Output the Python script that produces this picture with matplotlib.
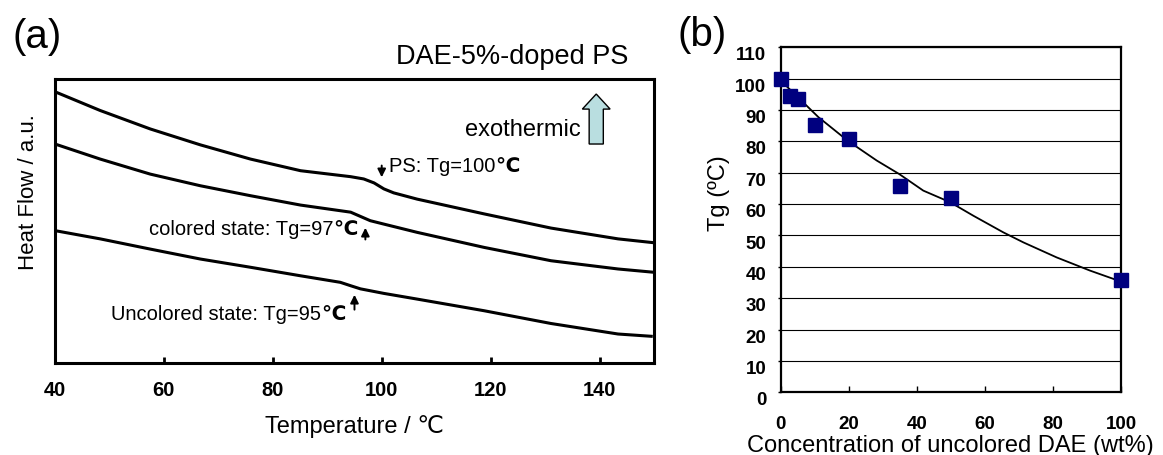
import matplotlib
matplotlib.use('Agg')
import matplotlib.pyplot as plt
import matplotlib.patches as patches
import matplotlib.transforms as mtransforms

plt.rcParams['font.family'] = ['Liberation Sans', 'DejaVu Sans']

# (a) DSC curves (arbitrary heat flow units)
ps_t = [40, 48.3, 57.5, 66.7, 75.9, 85.1, 94.3, 96.7, 98.6, 100.4, 102.2, 106.5, 118.8, 131.1, 143.4, 150.2]
ps_hf = [9.55, 8.89, 8.24, 7.68, 7.18, 6.77, 6.56, 6.48, 6.34, 6.13, 5.99, 5.77, 5.25, 4.75, 4.37, 4.23]

col_t = [40, 48.3, 57.5, 66.7, 75.9, 85.1, 94.3, 96.1, 97.9, 100.4, 106.5, 118.8, 131.1, 143.4, 150.2]
col_hf = [7.71, 7.18, 6.65, 6.24, 5.89, 5.56, 5.31, 5.16, 5.01, 4.89, 4.60, 4.07, 3.60, 3.31, 3.19]

unc_t = [40, 48.3, 57.5, 66.7, 75.9, 85.1, 92.4, 94.3, 96.1, 100.4, 106.5, 118.8, 131.1, 143.4, 149.5]
unc_hf = [4.66, 4.37, 4.01, 3.66, 3.37, 3.07, 2.84, 2.72, 2.61, 2.45, 2.25, 1.84, 1.39, 1.02, 0.94]

# (b) Tg vs concentration
conc = [0, 2.7, 5, 10, 20, 35, 50, 100]
tg = [100, 94.6, 93.5, 85.2, 80.8, 65.9, 62.1, 35.9]
fit_x = [0, 11.1, 19.7, 28.2, 34.8, 41.9, 49.8, 56.6, 65.4, 71.3, 81.1, 90.9, 100]
fit_y = [99.4, 87.7, 80.2, 73.9, 69.6, 64.3, 60.6, 56.3, 51.0, 47.8, 43.0, 38.8, 35.3]

fig = plt.figure(figsize=(11.63, 4.56), dpi=100)

# ---------------- panel (a)
ax = fig.add_axes([0.0473, 0.2018, 0.515, 0.6228])
for t, hf in [(ps_t, ps_hf), (col_t, col_hf), (unc_t, unc_hf)]:
    ax.plot(t, hf, color='black', linewidth=2.2)
ax.set_xlim(40, 150)
ax.set_ylim(0, 10)
ax.set_xticks([40, 60, 80, 100, 120, 140])
ax.set_yticks([])
ax.tick_params(axis='x', direction='in', length=4.5, width=2, pad=12, labelsize=14.5)
for lab in ax.get_xticklabels():
    lab.set_fontweight('bold')
for sp in ax.spines.values():
    sp.set_linewidth(2.2)
ax.set_xlabel('Temperature / ℃', fontsize=17, labelpad=11)
ax.set_ylabel('Heat Flow / a.u.', fontsize=16)
ax.yaxis.set_label_coords(-0.027, 0.606)

# Tg markers
arr = dict(arrowstyle='-|>', color='black', lw=1.4, mutation_scale=12)
ax.annotate('', xy=(100, 6.44), xytext=(100, 7.05), arrowprops=arr)
ax.annotate('', xy=(97, 4.86), xytext=(97, 4.25), arrowprops=arr)
ax.annotate('', xy=(95, 2.50), xytext=(95, 1.78), arrowprops=arr)


def tg_label(x, y, text, ha):
    # text in normal weight, the degree sign in bold as in the original
    if ha == 'left':
        t = ax.text(x, y, text, fontsize=14.5, ha='left', va='center')
        ax.annotate('℃', xy=(1, 0.5), xycoords=t, fontsize=14.5,
                    fontweight='bold', ha='left', va='center')
    else:
        c = ax.text(x, y, '℃', fontsize=14.5, fontweight='bold', ha='right', va='center')
        ax.annotate(text, xy=(0, 0.5), xycoords=c, fontsize=14.5,
                    ha='right', va='center')


tg_label(101.3, 6.94, 'PS: Tg=100', 'left')
tg_label(95.6, 4.72, 'colored state: Tg=97', 'right')
tg_label(93.4, 1.73, 'Uncolored state: Tg=95', 'right')

# exothermic arrow
ax.add_patch(patches.FancyArrow(139.4, 7.71, 0, 1.76, width=2.6, head_width=5.1,
                                head_length=0.53, length_includes_head=True,
                                facecolor='#b9dee0', edgecolor='black', linewidth=1))
ax.text(136.6, 8.24, 'exothermic', fontsize=17, ha='right', va='center')

fig.text(0.54, 0.875, 'DAE-5%-doped PS', fontsize=19.5, ha='right', va='center')
fig.text(0.032, 0.918, '(a)', fontsize=29, ha='center', va='center')

# ---------------- panel (b)
bx = fig.add_axes([0.6713, 0.1375, 0.2926, 0.7566])
bx.set_xlim(0, 100)
bx.set_ylim(0, 110)
bx.set_yticks(range(0, 111, 10))
bx.set_xticks(range(0, 101, 20))
bx.grid(axis='y', color='black', linewidth=0.8)
bx.set_axisbelow(True)
bx.plot(fit_x, fit_y, color='black', linewidth=1.3, zorder=3)
bx.plot(conc, tg, linestyle='none', marker='s', markersize=9.5,
        color='#00007f', clip_on=False, zorder=4)
bx.tick_params(axis='x', direction='in', length=4, width=1, pad=16, labelsize=13.5)
bx.tick_params(axis='y', direction='out', length=2.5, width=1, pad=8, labelsize=13.5)
for lab in bx.get_xticklabels() + bx.get_yticklabels():
    lab.set_fontweight('bold')
shift = mtransforms.ScaledTranslation(0, -4 / 72, fig.dpi_scale_trans)
for lab in bx.get_yticklabels():
    lab.set_transform(lab.get_transform() + shift)
for sp in bx.spines.values():
    sp.set_linewidth(1.6)
bx.set_xlabel('Concentration of uncolored DAE (wt%)', fontsize=17, labelpad=2)
bx.set_ylabel('Tg (ºC)', fontsize=17)
bx.yaxis.set_label_coords(-0.149, 0.58)
fig.text(0.6035, 0.923, '(b)', fontsize=29, ha='center', va='center')

fig.savefig('out.png', dpi=100)
